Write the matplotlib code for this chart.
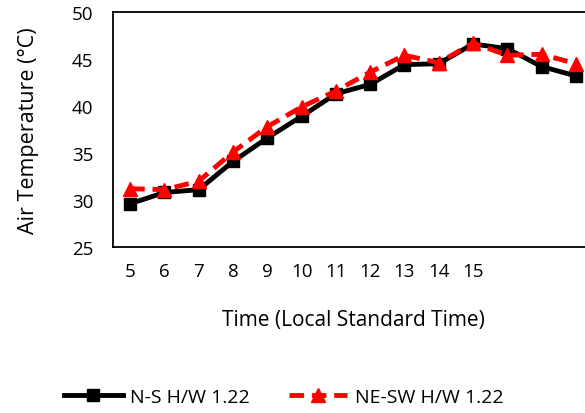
import matplotlib.pyplot as plt
import numpy as np

plt.rcParams['font.family'] = ['Open Sans', 'DejaVu Sans']

# hourly categories, only the first 11 carry a label in the original
hour_labels = ['5', '6', '7', '8', '9', '10', '11', '12', '13', '14', '15', '', '', '']
ns_temp = [29.6, 30.8, 31.1, 34.1, 36.6, 38.9, 41.3, 42.3, 44.4, 44.5, 46.6, 46.1, 44.2, 43.2]
nesw_temp = [31.2, 31.1, 32.0, 35.1, 37.8, 39.9, 41.6, 43.6, 45.4, 44.6, 46.7, 45.4, 45.5, 44.5]

x = np.arange(len(hour_labels))

fig = plt.figure(figsize=(5.85, 4.14), dpi=100)
# axes runs past the right edge of the picture, as in the reference
ax = fig.add_axes([113/585, 1 - 248/414, 480/585, 235/414])

ax.plot(x, ns_temp, color='black', lw=3.5, marker='s', ms=9,
        label='N-S H/W 1.22')
ax.plot(x, nesw_temp, color='red', lw=3.5, ls=(0, (3, 1.6)), marker='^', ms=10,
        label='NE-SW H/W 1.22')

ax.set_xlim(-0.5, len(hour_labels) - 0.5)
ax.set_ylim(25, 50)
ax.set_yticks(np.arange(25, 51, 5))
ax.set_xticks(x)
ax.set_xticklabels(hour_labels)
ax.tick_params(length=0, labelsize=13.5, pad=11)
ax.tick_params(axis='y', pad=14)
for s in ax.spines.values():
    s.set_linewidth(1.3)

ax.set_xlabel('Time (Local Standard Time)', fontsize=15, labelpad=21)
ax.set_ylabel('Air Temperature (°C)', fontsize=15.5, labelpad=24)

fig.legend(loc='center', bbox_to_anchor=(284/585, 1 - 398/414), ncol=2,
           frameon=False, fontsize=14, handlelength=3.0, handletextpad=0.4,
           columnspacing=2.0)

fig.savefig('out.png', dpi=100)
